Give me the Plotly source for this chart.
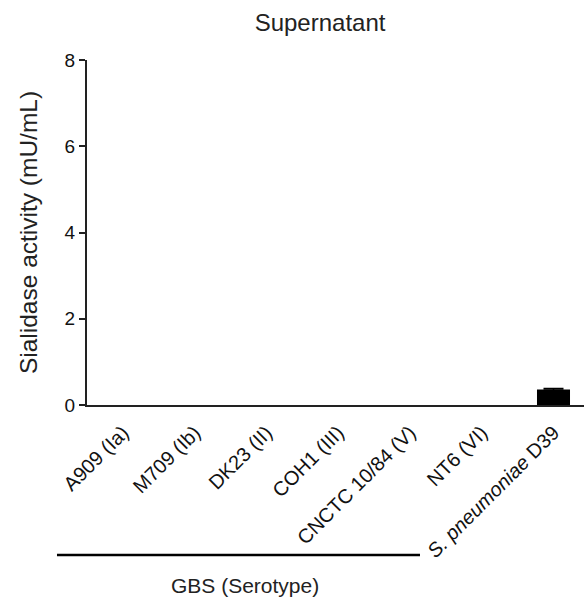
import plotly.graph_objects as go

categories = ["A909 (Ia)", "M709 (Ib)", "DK23 (II)", "COH1 (III)", "CNCTC 10/84 (V)", "NT6 (VI)", "<i>S. pneumoniae</i> D39"]
values = [0, 0, 0, 0, 0, 0, 0.36]
errors = [0, 0, 0, 0, 0, 0, 0.02]
yticks = [0, 2, 4, 6, 8]

xs = list(range(len(categories)))
fig = go.Figure()
fig.add_trace(go.Bar(
    x=xs, y=values,
    marker=dict(color="black", line=dict(width=0)),
    width=0.46,
))
ex = [x for x, e in zip(xs, errors) if e > 0]
ey = [v for v, e in zip(values, errors) if e > 0]
ee = [e for e in errors if e > 0]
fig.add_trace(go.Scatter(
    x=ex, y=ey, mode="markers", marker=dict(size=1, color="black", opacity=0),
    error_y=dict(type="data", array=ee, visible=True, color="black", thickness=1.5, width=10),
    hoverinfo="skip",
))

font = "Liberation Sans, Arial, sans-serif"
fig.update_layout(
    width=584, height=600,
    margin=dict(l=87, r=0, t=60, b=195),
    plot_bgcolor="white", paper_bgcolor="white",
    showlegend=False,
    font=dict(family=font, color="#222", size=19),
    title=dict(text="Supernatant", x=0.548, xanchor="center", y=0.963, yanchor="middle",
               font=dict(size=24, family=font, color="#222")),
    xaxis=dict(
        range=[-0.5, 6.425],
        tickmode="array", tickvals=xs, ticktext=categories,
        tickangle=-45, showline=True, linecolor="#222", linewidth=2,
        ticks="", showgrid=False, zeroline=False, ticklabelstandoff=6,
        tickfont=dict(size=20, family=font, color="#111"),
    ),
    yaxis=dict(
        range=[0, 8], tickvals=yticks, showline=True, linecolor="#222", linewidth=2,
        ticks="outside", ticklen=6, tickwidth=2, tickcolor="#222",
        showgrid=False, zeroline=False,
        tickfont=dict(size=19, family=font, color="#111"),
        title=dict(text="Sialidase activity (mU/mL)", font=dict(size=24.5, family=font, color="#222"), standoff=20),
    ),
)

fig.add_shape(type="line", xref="paper", yref="paper", x0=-0.0604, x1=0.670, y0=-0.435, y1=-0.435,
              line=dict(color="black", width=2.5))
fig.add_annotation(text="GBS (Serotype)", xref="paper", yref="paper", x=0.318, y=-0.522,
                   showarrow=False, font=dict(size=21, family=font, color="#222"),
                   xanchor="center", yanchor="middle")

fig.write_html("out.html")
